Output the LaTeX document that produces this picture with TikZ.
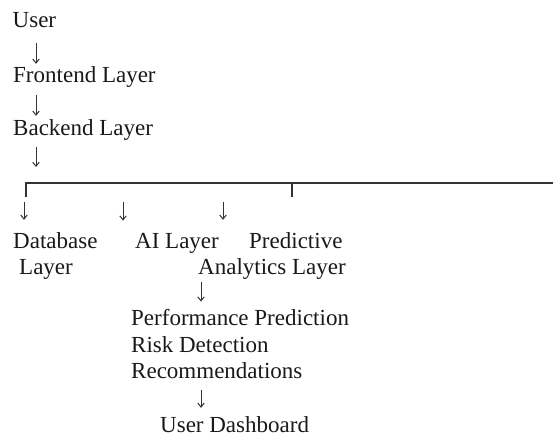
\documentclass[tikz,border=0pt]{standalone}
\usepackage{fontspec}
\setmainfont{Liberation Serif}
\usepackage{tikz}
\usetikzlibrary{arrows.meta, calc}

\begin{document}
\begin{tikzpicture}[x=1pt, y=-1pt,
    txt/.style={anchor=base west, inner sep=0pt, font=\fontsize{23}{27}\selectfont, text=black!90},
    arr/.style={-{Straight Barb[length=4pt, width=6.5pt]}, line width=1pt, black!80},
    bus/.style={line width=1.8pt, black!80}]

\useasboundingbox (0,0) rectangle (553,436);

% Top stack
\node[txt] (user) at (12.5,28) {User};
\node[txt] (front) at (13,82) {Frontend Layer};
\node[txt] (back) at (13,135) {Backend Layer};

% Branch line
\coordinate (busL) at (26,183);
\coordinate (busM) at (292,183);
\coordinate (busR) at (553,183);
\draw[bus] ([yshift=-14pt]busL) -- (busL) -- (busR);
\draw[bus] (busM) -- ([yshift=-14pt]busM);

% Layers under the branch
\node[txt] (db) at (13,248) {Database};
\node[txt] (dbl) at (19,274) {Layer};
\node[txt] (ai) at (135,248) {AI Layer};
\node[txt] (pred) at (249,248) {Predictive};
\node[txt] (predl) at (198,274) {Analytics Layer};

% Outputs
\node[txt] (perf) at (131,325) {Performance Prediction};
\node[txt] (risk) at (131,352) {Risk Detection};
\node[txt] (rec) at (131,378) {Recommendations};
\node[txt] (dash) at (160,432) {User Dashboard};

% Arrows down the stack
\draw[arr, shorten <=15pt, shorten >=2pt] (user.base -| 36,0) -- (front.north -| 36,0);
\draw[arr, shorten <=13pt, shorten >=3pt] (front.base -| 36,0) -- (back.north -| 36,0);
\draw[arr, shorten <=12pt, shorten >=16pt] (back.base -| 36,0) -- (36,0 |- busL);

% Arrows from the branch
\draw[arr, shorten <=19pt, shorten >=12pt] (24,0 |- busL) -- (24,0 |- db.north);
\draw[arr, shorten <=19pt, shorten >=12pt] (123,0 |- busL) -- (123,0 |- ai.north);
\draw[arr, shorten <=19pt, shorten >=12pt] (223,0 |- busL) -- (223,0 |- pred.north);

% Arrows to outputs
\draw[arr, shorten <=8pt, shorten >=7pt] (201,0 |- predl.base) -- (201,0 |- perf.north);
\draw[arr, shorten <=12pt, shorten >=8pt] (201,0 |- rec.base) -- (201,0 |- dash.north);
\end{tikzpicture}
\end{document}
